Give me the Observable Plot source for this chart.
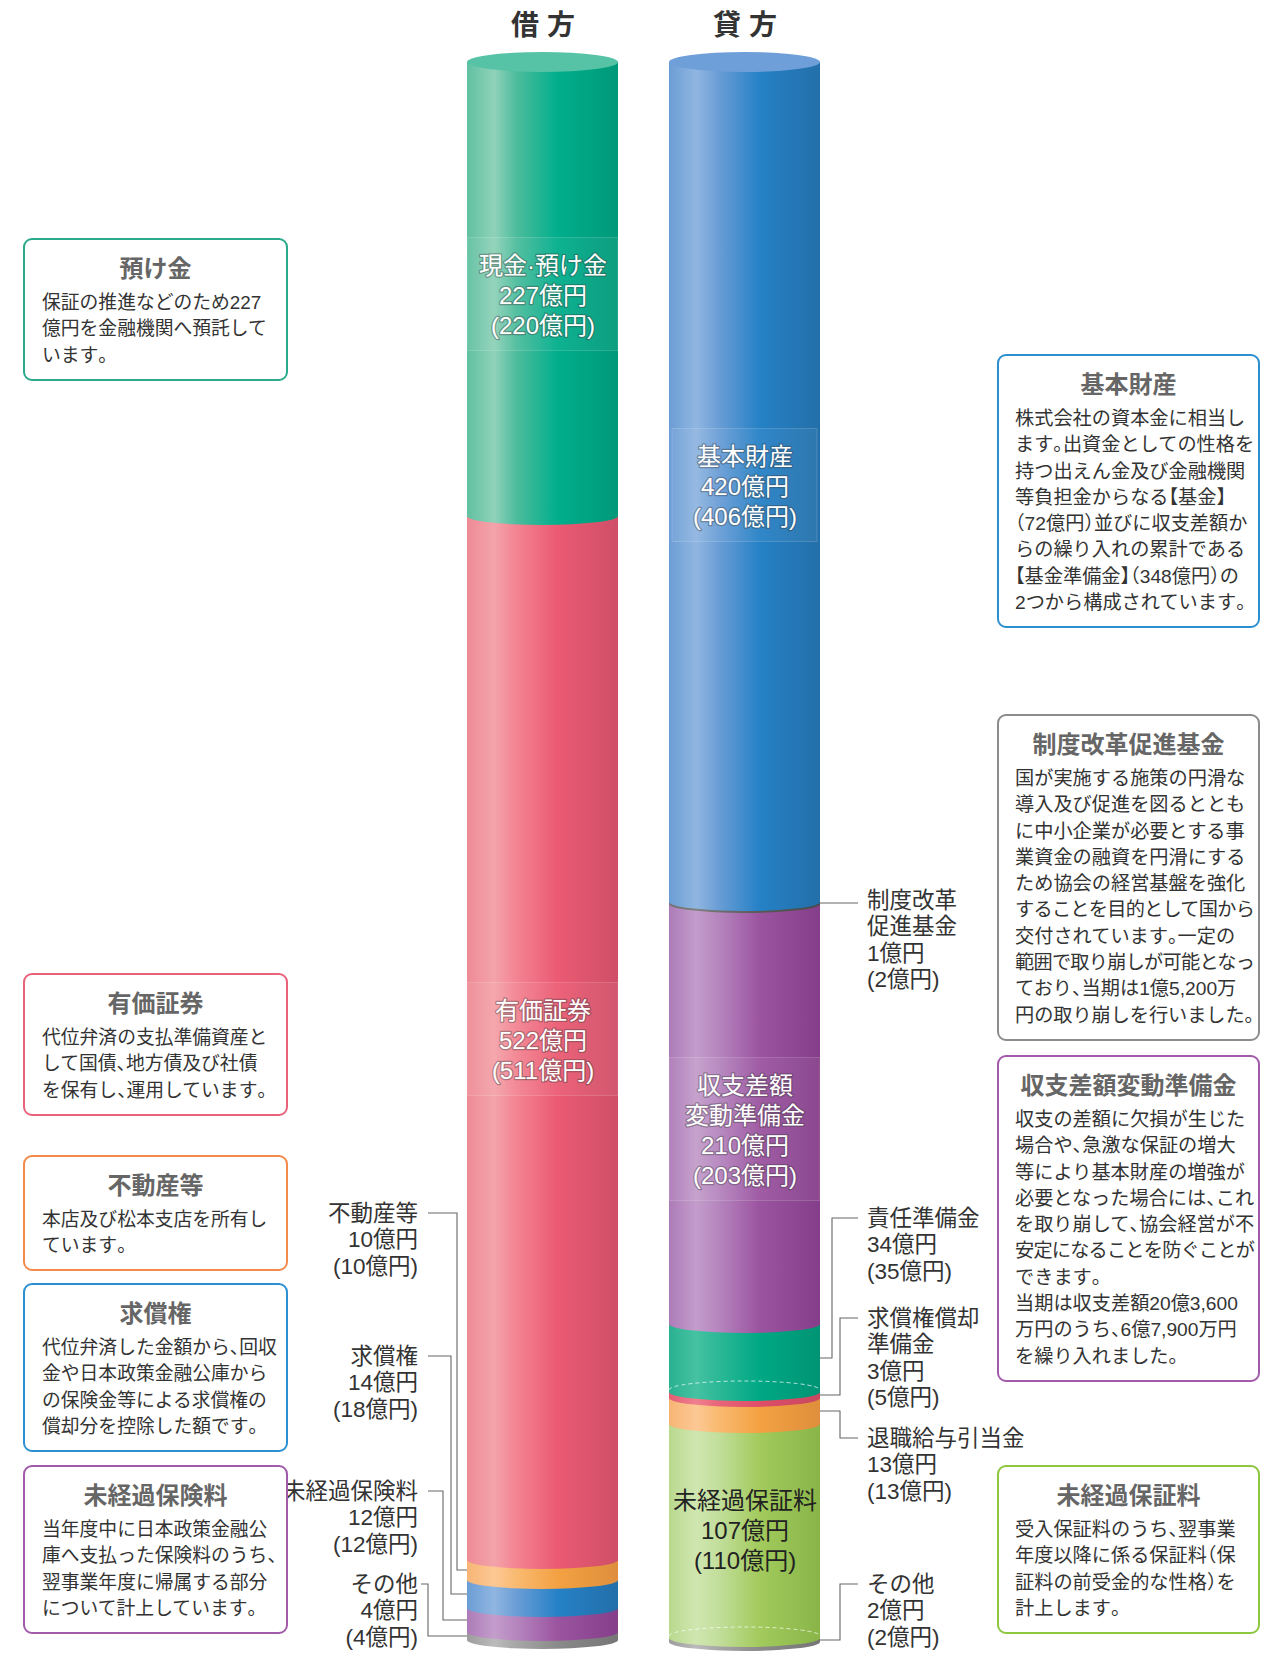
<!DOCTYPE html>
<html><head><meta charset="utf-8">
<script src="https://cdn.jsdelivr.net/npm/d3@7"></script>
<script src="https://cdn.jsdelivr.net/npm/@observablehq/plot@0.6"></script>
<style>
body{margin:0;background:#fff;font-family:"Liberation Sans","Noto Sans CJK JP",sans-serif;}
#wrap{position:relative;width:1278px;height:1653px;overflow:hidden;}
#wrap svg.plotsvg{position:absolute;left:0;top:0;}
.box{position:absolute;box-sizing:border-box;border:2px solid;border-radius:9px;background:#fff;padding-top:14px;}
.box .t{font-size:24px;line-height:30px;text-align:center;color:#666;font-weight:700;white-space:nowrap;}
.box .b{margin-top:6px;line-height:26.3px;color:#333;}
.box .ln{display:block;white-space:nowrap;}
.h{font-feature-settings:"halt";}
</style></head><body>
<svg id="defs" width="0" height="0" style="position:absolute"><defs></defs></svg>
<div id="wrap"></div>
<script>
// ---------------- DATA ----------------
const sides = ["借方", "貸方"];
const sideTitles = ["借 方", "貸 方"];

const debitNames = ["現金·預け金", "有価証券", "不動産等", "求償権", "未経過保険料", "その他"];
const debitValues = [227, 522, 10, 14, 12, 4];
const debitPrev = [220, 511, 10, 18, 12, 4];

const creditNames = ["基本財産", "制度改革\n促進基金", "収支差額\n変動準備金", "責任準備金", "求償権償却\n準備金", "退職給与引当金", "未経過保証料", "その他"];
const creditValues = [420, 1, 210, 34, 3, 13, 107, 2];
const creditPrev = [406, 2, 203, 35, 5, 13, 110, 2];

const noteTitles = ["預け金", "有価証券", "不動産等", "求償権", "未経過保険料", "基本財産", "制度改革促進基金", "収支差額変動準備金", "未経過保証料"];
const noteBodies = [
  ["保証の推進などのため227", "億円を金融機関へ預託して", "います。"],
  ["代位弁済の支払準備資産と", "して国債、地方債及び社債", "を保有し、運用しています。"],
  ["本店及び松本支店を所有し", "ています。"],
  ["代位弁済した金額から、回収", "金や日本政策金融公庫から", "の保険金等による求償権の", "償却分を控除した額です。"],
  ["当年度中に日本政策金融公", "庫へ支払った保険料のうち、", "翌事業年度に帰属する部分", "について計上しています。"],
  ["株式会社の資本金に相当し", "ます。出資金としての性格を", "持つ出えん金及び金融機関", "等負担金からなる【基金】", "（72億円）並びに収支差額か", "らの繰り入れの累計である", "【基金準備金】（348億円）の", "2つから構成されています。"],
  ["国が実施する施策の円滑な", "導入及び促進を図るととも", "に中小企業が必要とする事", "業資金の融資を円滑にする", "ため協会の経営基盤を強化", "することを目的として国から", "交付されています。一定の", "範囲で取り崩しが可能となっ", "ており、当期は1億5,200万", "円の取り崩しを行いました。"],
  ["収支の差額に欠損が生じた", "場合や、急激な保証の増大", "等により基本財産の増強が", "必要となった場合には、これ", "を取り崩して、協会経営が不", "安定になることを防ぐことが", "できます。", "当期は収支差額20億3,600", "万円のうち、6億7,900万円", "を繰り入れました。"],
  ["受入保証料のうち、翌事業", "年度以降に係る保証料（保", "証料の前受金的な性格）を", "計上します。"]
];

// ---------------- STYLE / LAYOUT ----------------
const palettes = {
  green:  ["#60c0a1", "#8fd2b9", "#4cbc9c", "#00ae8c", "#009979"],
  blue:   ["#6b9dd5", "#90b6e1", "#6a9dd6", "#2581c6", "#236fa9"],
  red:    ["#ee8b95", "#f4a3aa", "#f38391", "#eb5a72", "#cf4f68"],
  orange: ["#f7b575", "#fcc894", "#f9ba70", "#f3a142", "#df8f3c"],
  purple: ["#ad7bb8", "#c39dcb", "#b585be", "#9b54a0", "#853f8a"],
  teal:   ["#2ab190", "#45c2a2", "#2bb896", "#00a884", "#009474"],
  lime:   ["#b9d98e", "#d0e6b0", "#c2de9b", "#a2ca5c", "#89b548"],
  gray:   ["#9c9c9c", "#bbbbbb", "#a6a6a6", "#8a8a8a", "#767676"],
  pink:   ["#e45c73", "#f0808f", "#e86479", "#de4e68", "#c84760"],
  dark:   ["#707070", "#808080", "#6e6e6e", "#5a5a5a", "#4a4a4a"]
};
const stopOffsets = [0, 0.18, 0.33, 0.6, 1];
const debitPalettes = ["green", "red", "orange", "blue", "purple", "gray"];
const creditPalettes = ["blue", "dark", "purple", "teal", "pink", "orange", "lime", "gray"];
const capColors = {"借方": "#56c3a6", "貸方": "#6e9fd8"};
const RY = 9;
const fontStack = '"Liberation Sans", "Noto Sans CJK JP", sans-serif';

// inside labels: [side, index, dy, showBox, inset, darkText]
const insideLabels = [
  ["借方", 0, 5, true, 0, false],
  ["借方", 1, 1, true, 0, false],
  ["貸方", 0, 3, true, 3, false],
  ["貸方", 2, 15, true, 0, false],
  ["貸方", 6, -2, false, 0, true]
];
const debitCallouts = [
  {idx: 2, ty: 1213, hx: 428, vx: 457},
  {idx: 3, ty: 1356, hx: 428, vx: 451},
  {idx: 4, ty: 1491, hx: 428, vx: 443},
  {idx: 5, ty: 1584, hx: 421, vx: 428}
];
const creditCallouts = [
  {idx: 1, ty: 900, vx: null},
  {idx: 3, ty: 1218, vx: 832},
  {idx: 4, ty: 1318, vx: 840},
  {idx: 5, ty: 1438, vx: 840},
  {idx: 7, ty: 1584, vx: 840}
];
const debitTextRight = 418, creditTextLeft = 867, creditLineEnd = 858;
const calloutFont = 22.5, calloutLH = 26.3;

const noteLayout = [
  {left: 23, top: 238, color: "#2aaa8a"},
  {left: 23, top: 973, color: "#e8627a"},
  {left: 23, top: 1155, color: "#f28a4c"},
  {left: 23, top: 1283, color: "#2b8fd0"},
  {left: 23, top: 1465, color: "#a25aab"},
  {left: 997, top: 354, color: "#2b8fd0"},
  {left: 997, top: 714, color: "#8c8c8c"},
  {left: 997, top: 1055, color: "#a25aab"},
  {left: 997, top: 1465, color: "#8dc63f"}
];

// ---------------- BUILD ----------------
const segments = [];
function buildSide(side, names, vals, prevs, pals) {
  let acc = 0;
  names.forEach((name, i) => {
    segments.push({side, name, idx: i, value: vals[i], prev: prevs[i], y0: acc, y1: acc + vals[i], mid: acc + vals[i] / 2, pal: pals[i]});
    acc += vals[i];
  });
}
buildSide("借方", debitNames, debitValues, debitPrev, debitPalettes);
buildSide("貸方", creditNames, creditValues, creditPrev, creditPalettes);
const seg = (side, i) => segments.find(s => s.side === side && s.idx === i);

// gradients
const defs = d3.select("#defs defs");
for (const [key, cols] of Object.entries(palettes)) {
  const lg = defs.append("linearGradient").attr("id", "g-" + key).attr("x1", 0).attr("x2", 1).attr("y1", 0).attr("y2", 0);
  cols.forEach((c, i) => lg.append("stop").attr("offset", stopOffsets[i]).attr("stop-color", c));
}
const grad = key => `url(#g-${key})`;

function bandInfo(scales) {
  const x = scales.x;
  const bw = typeof x.bandwidth === "function" ? x.bandwidth() : x.bandwidth;
  return {x, y: scales.y, bw};
}

// cylinder arcs, caps, label boxes
function cylinderDecor(index, scales) {
  const {x, y, bw} = bandInfo(scales);
  const g = d3.create("svg:g");
  for (const s of segments.slice().reverse()) {
    const x1 = x(s.side), x2 = x1 + bw, yb = y(s.y1);
    g.append("path").attr("d", `M${x1},${yb}A${bw / 2},${RY} 0 0 0 ${x2},${yb}Z`).attr("fill", grad(s.pal));
  }
  // dashed back edges
  for (const s of [seg("貸方", 3), seg("貸方", 6)]) {
    const x1 = x(s.side), x2 = x1 + bw, yb = y(s.y1) - 2;
    g.append("path").attr("d", `M${x1},${yb}A${bw / 2},${RY} 0 0 1 ${x2},${yb}`)
      .attr("fill", "none").attr("stroke", "#fff").attr("stroke-opacity", 0.7).attr("stroke-dasharray", "4,3").attr("stroke-width", 1);
  }
  // top caps
  for (const side of sides) {
    const x1 = x(side);
    g.append("ellipse").attr("cx", x1 + bw / 2).attr("cy", y(0)).attr("rx", bw / 2).attr("ry", RY + 1).attr("fill", capColors[side]);
  }
  // faint label boxes
  for (const [side, i, dy, box, inset] of insideLabels) {
    if (!box) continue;
    const s = seg(side, i);
    const n = s.name.split("\n").length + 2;
    const h = n * 30 + 23;
    const cy = y(s.mid) + dy;
    g.append("rect").attr("x", x(side) + inset).attr("y", cy - h / 2).attr("width", bw - 2 * inset).attr("height", h)
      .attr("fill", "#fff").attr("fill-opacity", 0.05).attr("stroke", "#fff").attr("stroke-opacity", 0.16);
  }
  return g.node();
}

function callouts(index, scales) {
  const {x, y, bw} = bandInfo(scales);
  const g = d3.create("svg:g").attr("font-family", fontStack);
  const line = d3.line();
  const drawText = (s, tx, ty, anchor) => {
    const lines = [...s.name.split("\n"), `${s.value}億円`, `(${s.prev}億円)`];
    lines.forEach((ln, k) => g.append("text").attr("text-anchor", anchor).attr("font-size", calloutFont).attr("fill", "#333")
      .attr("x", tx).attr("y", ty + k * calloutLH).attr("dy", "0.36em").text(ln));
  };
  for (const c of debitCallouts) {
    const s = seg("借方", c.idx), ym = y(s.mid), xl = x("借方");
    g.append("path").attr("d", line([[c.hx, c.ty], [c.vx, c.ty], [c.vx, ym], [xl, ym]]))
      .attr("fill", "none").attr("stroke", "#666").attr("stroke-width", 1.1);
    drawText(s, debitTextRight, c.ty, "end");
  }
  for (const c of creditCallouts) {
    const s = seg("貸方", c.idx), ym = y(s.mid), xr = x("貸方") + bw;
    const pts = c.vx == null ? [[xr, ym], [creditLineEnd, ym]] : [[xr, ym], [c.vx, ym], [c.vx, c.ty], [creditLineEnd, c.ty]];
    g.append("path").attr("d", line(pts)).attr("fill", "none").attr("stroke", "#666").attr("stroke-width", 1.1);
    drawText(s, creditTextLeft, c.ty, "start");
  }
  return g.node();
}

const labelRows = insideLabels.map(([side, i, dy, box, inset, dark]) => {
  const s = seg(side, i);
  return {side, mid: s.mid, dy, dark, text: `${s.name}\n${s.value}億円\n(${s.prev}億円)`};
});

const plot = Plot.plot({
  width: 1278,
  height: 1653,
  marginTop: 62,
  marginBottom: 11,
  marginLeft: 0,
  marginRight: 0,
  x: {type: "band", domain: sides, range: [466, 821], paddingInner: 0.2512, paddingOuter: 0, axis: null},
  y: {domain: [0, 790], range: [62, 1642], axis: null},
  style: {fontFamily: fontStack, background: "transparent", overflow: "visible"},
  marks: [
    ...segments.map(s => Plot.barY([s], {x: "side", y1: "y0", y2: "y1", fill: grad(s.pal), insetLeft: 0, insetRight: 0})),
    cylinderDecor,
    ...labelRows.filter(d => !d.dark).map(d => Plot.text([d], {
      x: "side", y: "mid", dy: d.dy, text: "text", fontSize: 24, lineHeight: 1.25,
      fill: "#fff", stroke: "#3a3a3a", strokeOpacity: 0.4, strokeWidth: 2.5
    })),
    ...labelRows.filter(d => d.dark).map(d => Plot.text([d], {
      x: "side", y: "mid", dy: d.dy, text: "text", fontSize: 24, lineHeight: 1.25, fill: "#222"
    })),
    callouts,
    Plot.text(sides, {x: d => d, text: (d, i) => sideTitles[i], frameAnchor: "top", lineAnchor: "middle", dy: -36, fontSize: 28, fontWeight: 700, fill: "#333"})
  ]
});
plot.classList.add("plotsvg");
const wrap = document.getElementById("wrap");
wrap.appendChild(plot);

// note boxes
const halfChars = /[、。（）【】「」]/;
noteTitles.forEach((title, i) => {
  const L = noteLayout[i], lines = noteBodies[i];
  const right = L.left > 600;
  const w = right ? 263 : 265, pl = right ? 16 : 17;
  const div = document.createElement("div");
  div.className = "box";
  div.style.left = L.left + "px";
  div.style.top = L.top + "px";
  div.style.width = w + "px";
  div.style.height = (90 + (lines.length - 1) * 26.3) + "px";
  div.style.borderColor = L.color;
  div.style.paddingLeft = pl + "px";
  const t = document.createElement("div");
  t.className = "t"; t.textContent = title;
  t.style.marginLeft = (-pl) + "px";
  const b = document.createElement("div");
  b.className = "b";
  b.style.fontSize = (right ? 19.2 : 18.8) + "px";
  div.appendChild(t); div.appendChild(b);
  wrap.appendChild(div);
  const maxW = w - pl - 8;
  lines.forEach(ln => {
    const sp = document.createElement("span");
    sp.className = "ln";
    for (const ch of ln) {
      if (halfChars.test(ch)) {
        const h = document.createElement("span"); h.className = "h"; h.textContent = ch; sp.appendChild(h);
      } else sp.appendChild(document.createTextNode(ch));
    }
    b.appendChild(sp);
    sp.style.display = "inline-block";
    const wNow = sp.getBoundingClientRect().width;
    if (wNow > maxW) sp.style.letterSpacing = (-(wNow - maxW) / [...ln].length) + "px";
    sp.style.display = "block";
  });
});
</script>
</body></html>
